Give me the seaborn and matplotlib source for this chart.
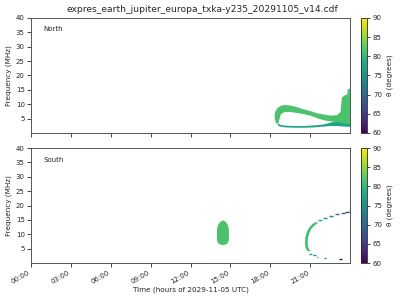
import numpy as np
import matplotlib
matplotlib.use("Agg")
import matplotlib.pyplot as plt
import seaborn as sns
from matplotlib.colors import Normalize
from matplotlib.cm import ScalarMappable

# ---------------- data ----------------
title = "expres_earth_jupiter_europa_txka-y235_20291105_v14.cdf"
tick_hours = [0, 3, 6, 9, 12, 15, 18, 21]
tick_labels = ["00:00", "03:00", "06:00", "09:00", "12:00", "15:00", "18:00", "21:00"]
freq_ticks = [5, 10, 15, 20, 25, 30, 35, 40]
theta_ticks = [60, 65, 70, 75, 80, 85, 90]

# North: main band (upper loop branch + right column)
north_band_t = [18.30, 18.40, 18.55, 18.75, 19.0, 19.4, 19.9, 20.4, 21.0, 21.5, 22.0, 22.5, 23.0, 23.25, 23.35, 23.6, 23.75, 23.8, 24.0]
north_band_lo = [5.0, 3.6, 3.2, 6.6, 7.4, 7.5, 7.2, 6.8, 6.2, 5.3, 4.6, 4.2, 3.8, 3.5, 3.5, 3.3, 3.0, 3.0, 3.0]
north_band_hi = [7.0, 8.2, 9.0, 9.6, 9.9, 9.8, 9.3, 8.5, 7.8, 7.0, 6.6, 6.2, 6.4, 7.5, 12.5, 13.4, 13.5, 15.3, 15.8]
north_band_theta = 81.5
# North: lower loop branch
north_low_t = [18.55, 18.8, 19.2, 19.8, 20.5, 21.2, 21.8, 22.2, 22.6, 23.0, 23.5, 24.0]
north_low_lo = [2.7, 2.3, 2.1, 2.0, 2.0, 2.1, 2.3, 2.5, 2.6, 2.6, 2.4, 2.3]
north_low_hi = [3.4, 2.9, 2.7, 2.6, 2.6, 2.8, 3.0, 3.4, 3.9, 4.0, 3.6, 3.2]
north_low_theta = 77.5

# South: blob
blob_t = [13.95, 14.05, 14.2, 14.4, 14.6, 14.75, 14.85]
blob_lo = [8.0, 7.0, 6.6, 6.4, 6.6, 7.0, 8.0]
blob_hi = [12.0, 13.5, 14.5, 15.0, 14.6, 13.6, 12.0]
blob_theta = 81.5
# South: arc (time extent per frequency)
arc_f = [4.3, 5.0, 6.0, 7.5, 9.0, 10.5, 11.8, 12.8, 13.6, 14.3]
arc_t0 = [20.78, 20.66, 20.60, 20.58, 20.60, 20.68, 20.80, 20.95, 21.10, 21.30]
arc_t1 = [21.00, 20.88, 20.80, 20.78, 20.80, 20.90, 21.02, 21.20, 21.40, 21.60]
arc_theta = 81.0
# South: sparse dashes
dash_t0 = [21.60, 21.95, 22.40, 22.90, 23.30, 23.65, 23.93, 20.95, 21.25, 21.50, 22.05, 23.15]
dash_t1 = [21.90, 22.30, 22.70, 23.20, 23.60, 23.90, 24.00, 21.15, 21.45, 21.62, 22.20, 23.40]
dash_f = [14.8, 15.5, 16.2, 16.9, 17.3, 17.6, 18.0, 3.3, 2.7, 2.2, 1.7, 1.4]
dash_theta = [77, 75, 74, 71, 68, 66, 62, 77, 75, 74, 73, 61]

# ---------------- plot ----------------
sns.set_style("ticks")
plt.rcParams["font.family"] = ["DejaVu Sans"]

cmap = plt.get_cmap("viridis")
norm = Normalize(vmin=60, vmax=90)

fig = plt.figure(figsize=(4, 3), dpi=100)
ax1 = fig.add_axes([0.0775, 0.5567, 0.7975, 0.3833])
ax2 = fig.add_axes([0.0775, 0.1233, 0.7975, 0.3833])
cax1 = fig.add_axes([0.9025, 0.5567, 0.016, 0.3833])
cax2 = fig.add_axes([0.9025, 0.1233, 0.016, 0.3833])

ax1.fill_between(north_band_t, north_band_lo, north_band_hi,
                 color=cmap(norm(north_band_theta)), lw=0)
ax1.fill_between(north_low_t, north_low_lo, north_low_hi,
                 color=cmap(norm(north_low_theta)), lw=0)

ax2.fill_between(blob_t, blob_lo, blob_hi, color=cmap(norm(blob_theta)), lw=0)
ax2.fill_betweenx(arc_f, arc_t0, arc_t1, color=cmap(norm(arc_theta)), lw=0)
ax2.hlines(dash_f, dash_t0, dash_t1, colors=[cmap(norm(v)) for v in dash_theta], lw=1.0)

for ax, name in [(ax1, "North"), (ax2, "South")]:
    ax.set_xlim(0, 24)
    ax.set_ylim(0, 40)
    ax.set_yticks(freq_ticks)
    ax.set_xticks(tick_hours)
    ax.tick_params(labelsize=5, length=3, width=0.6, pad=1.5)
    ax.set_ylabel("Frequency (MHz)", fontsize=5.2, labelpad=3)
    ax.text(0.038, 0.9, name, transform=ax.transAxes, fontsize=5, va="center")
    for s in ax.spines.values():
        s.set_linewidth(0.7)
        s.set_color("#555555")

ax1.set_xticklabels([])
ax2.set_xticklabels(tick_labels, rotation=30, ha="right")
ax2.set_xlabel("Time (hours of 2029-11-05 UTC)", fontsize=5.2, labelpad=1)

for cax in (cax1, cax2):
    cb = fig.colorbar(ScalarMappable(norm=norm, cmap=cmap), cax=cax)
    cb.set_ticks(theta_ticks)
    cb.ax.tick_params(labelsize=5, length=2.5, width=0.6, pad=1.5)
    cb.set_label("θ (degrees)", fontsize=5.2, labelpad=3)
    cb.outline.set_linewidth(0.6)

fig.suptitle(title, x=0.505, y=0.985, fontsize=6.6)

fig.savefig("out.png", dpi=100)
